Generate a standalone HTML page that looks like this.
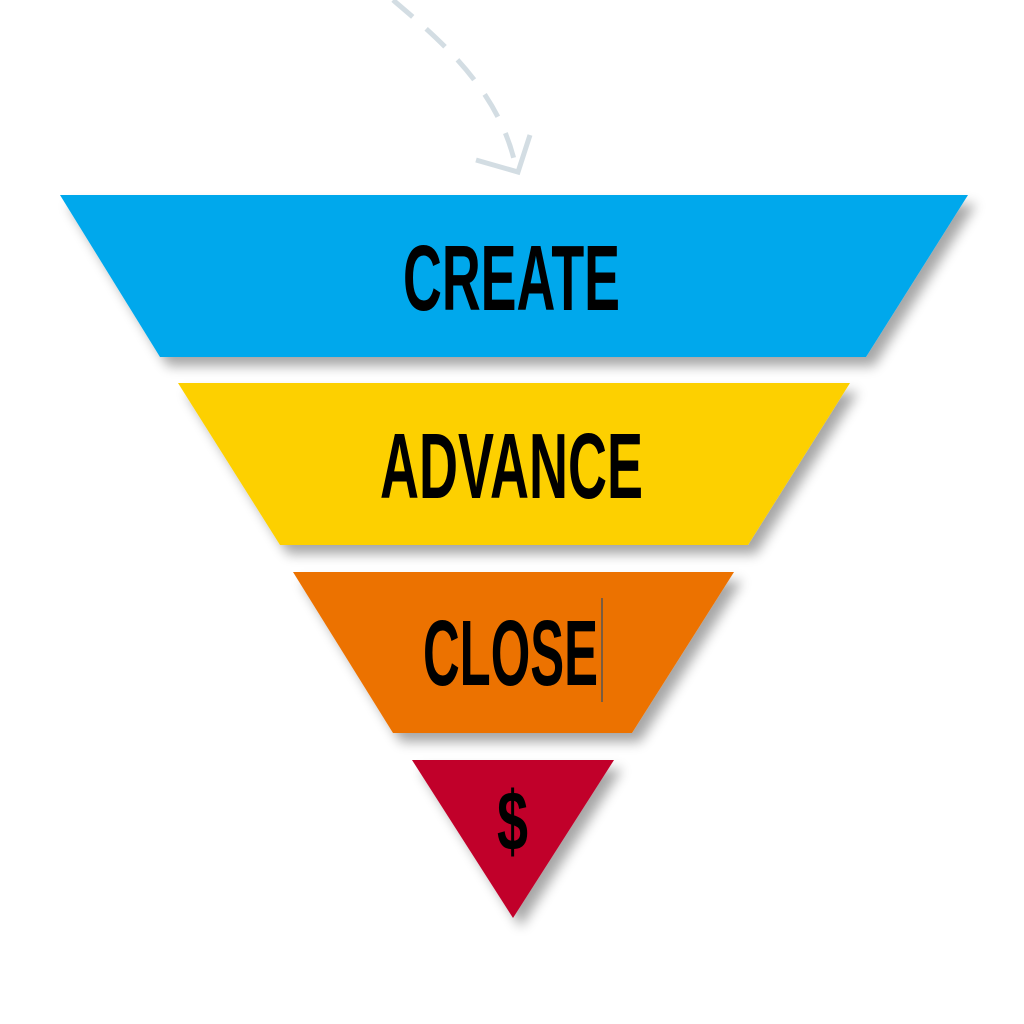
<!DOCTYPE html>
<html><head><meta charset="utf-8"><style>html,body{margin:0;padding:0;background:#fff}svg{display:block}</style></head>
<body>
<svg width="1024" height="1024" viewBox="0 0 1024 1024" xmlns="http://www.w3.org/2000/svg">
<defs>
<filter id="sh" x="-10%" y="-10%" width="130%" height="140%">
<feGaussianBlur in="SourceAlpha" stdDeviation="6"/>
<feOffset dx="8" dy="9" result="b"/>
<feComponentTransfer><feFuncA type="linear" slope="0.35"/></feComponentTransfer>
<feMerge><feMergeNode/><feMergeNode in="SourceGraphic"/></feMerge>
</filter>
</defs>
<rect width="1024" height="1024" fill="#fff"/>
<path d="M393,0 C440,40 500,90 516,168" fill="none" stroke="#d3dde3" stroke-width="5" stroke-dasharray="26,18"/>
<polyline points="476,160 518,172 530,135" fill="none" stroke="#d3dde3" stroke-width="5"/>
<g filter="url(#sh)">
<polygon points="60,195 968,195 866,357 160,357" fill="#00a8ec"/>
<polygon points="178,383 850,383 748,545 280,545" fill="#fdd000"/>
<polygon points="293,572 734,572 632,733 393,733" fill="#ec7200"/>
<polygon points="412,760 614,760 513,918" fill="#c1002c"/>
</g>
<g font-family="Liberation Sans, sans-serif" font-weight="bold" fill="#000">
<text x="403" y="310" font-size="93" textLength="217" lengthAdjust="spacingAndGlyphs">CREATE</text>
<text x="380" y="498" font-size="93" textLength="263" lengthAdjust="spacingAndGlyphs">ADVANCE</text>
<text x="423" y="685" font-size="93" textLength="175" lengthAdjust="spacingAndGlyphs">CLOSE</text>
<text x="497" y="850" font-size="84" textLength="31" lengthAdjust="spacingAndGlyphs">$</text>
</g>
<line x1="602" y1="598" x2="602" y2="702" stroke="#555" stroke-width="1.5"/>
</svg>
</body></html>
